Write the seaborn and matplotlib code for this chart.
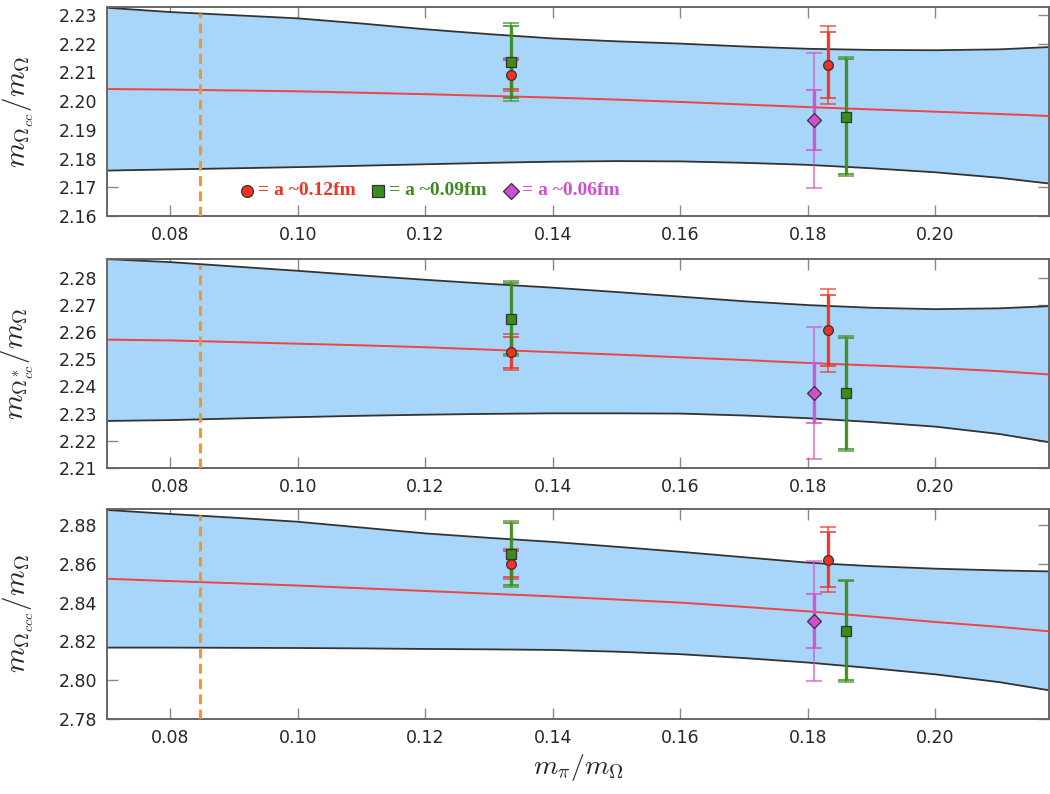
import numpy as np
import pandas as pd
import seaborn as sns
import matplotlib.pyplot as plt

band_x = [0.07, 0.08, 0.09, 0.10, 0.11, 0.12, 0.13, 0.14, 0.15, 0.16, 0.17, 0.18, 0.19, 0.20, 0.21, 0.2178]

# Omega_cc
cc_fit = [2.2042, 2.2040, 2.2037, 2.2034, 2.2029, 2.2024, 2.2018, 2.2012, 2.2005, 2.1997,
          2.1988, 2.1979, 2.1971, 2.1963, 2.1955, 2.1948]
cc_hi = [2.2325, 2.2310, 2.2299, 2.2288, 2.2270, 2.2250, 2.2233, 2.2218, 2.2208, 2.2200,
         2.2190, 2.2182, 2.2178, 2.2177, 2.2180, 2.2188]
cc_lo = [2.1758, 2.1762, 2.1766, 2.1770, 2.1775, 2.1780, 2.1785, 2.1789, 2.1791, 2.1790,
         2.1785, 2.1778, 2.1766, 2.1752, 2.1733, 2.1713]

# Omega*_cc
ccs_fit = [2.2572, 2.2569, 2.2563, 2.2557, 2.2551, 2.2544, 2.2535, 2.2526, 2.2517, 2.2507,
           2.2497, 2.2486, 2.2477, 2.2468, 2.2456, 2.2444]
ccs_hi = [2.2868, 2.2857, 2.2841, 2.2825, 2.2808, 2.2792, 2.2777, 2.2763, 2.2747, 2.2730,
          2.2713, 2.2699, 2.2689, 2.2684, 2.2687, 2.2695]
ccs_lo = [2.2273, 2.2276, 2.2282, 2.2287, 2.2292, 2.2296, 2.2299, 2.2301, 2.2301, 2.2300,
          2.2293, 2.2283, 2.2269, 2.2252, 2.2225, 2.2195]

# Omega_ccc
ccc_fit = [2.8523, 2.8511, 2.8500, 2.8488, 2.8474, 2.8460, 2.8446, 2.8432, 2.8416, 2.8400,
           2.8378, 2.8355, 2.8328, 2.8300, 2.8275, 2.8252]
ccc_hi = [2.8878, 2.8857, 2.8838, 2.8817, 2.8787, 2.8757, 2.8734, 2.8713, 2.8688, 2.8662,
          2.8634, 2.8606, 2.8588, 2.8575, 2.8566, 2.8561]
ccc_lo = [2.8168, 2.8168, 2.8167, 2.8166, 2.8164, 2.8161, 2.8159, 2.8156, 2.8147, 2.8134,
          2.8114, 2.8091, 2.8062, 2.8030, 2.7990, 2.7948]

# lattice points: x positions per lattice spacing
x_a12 = [0.1334, 0.1832]
x_a09 = [0.1334, 0.1859]
x_a06 = [0.1810]

# (value, stat error, total error) per panel
cc_a12 = ([2.2092, 2.2125], [0.0050, 0.0115], [0.0058, 0.0135])
cc_a09 = ([2.2136, 2.1945], [0.0125, 0.0200], [0.0135, 0.0207])
cc_a06 = ([2.1933], [0.0104], [0.0235])

ccs_a12 = ([2.2526, 2.2606], [0.0057, 0.0130], [0.0065, 0.0152])
ccs_a09 = ([2.2649, 2.2374], [0.0130, 0.0205], [0.0138, 0.0212])
ccs_a06 = ([2.2375], [0.0110], [0.0243])

ccc_a12 = ([2.8599, 2.8622], [0.0068, 0.0143], [0.0077, 0.0168])
ccc_a09 = ([2.8653, 2.8255], [0.0160, 0.0255], [0.0170, 0.0262])
ccc_a06 = ([2.8305], [0.0140], [0.0310])

phys_point = 0.0847

labels = [r"$m_{\Omega_{cc}}/m_{\Omega}$",
          r"$m_{\Omega^*_{cc}}/m_{\Omega}$",
          r"$m_{\Omega_{ccc}}/m_{\Omega}$"]
ylims = [(2.16, 2.2327), (2.21, 2.2869), (2.78, 2.8883)]
yticks = [np.arange(2.16, 2.2301, 0.01), np.arange(2.21, 2.2801, 0.01), np.arange(2.78, 2.8801, 0.02)]

legend_labels = ["= a ~0.12fm", "= a ~0.09fm", "= a ~0.06fm"]
legend_x = [0.0920, 0.1126, 0.1334]

sns.set_style("ticks")
plt.rcParams["mathtext.fontset"] = "cm"
plt.rcParams["font.family"] = ["DejaVu Sans"]

c_red = "#ee3322"
c_green = "#3c8c1c"
c_mag = "#d04fd0"
c_band = "#a8d6fa"

fig = plt.figure(figsize=(10.5, 7.94), dpi=100)
rects = [[0.102, 0.728, 0.897, 0.263],
         [0.102, 0.4106, 0.897, 0.2634],
         [0.102, 0.0945, 0.897, 0.2645]]

panels = [
    (cc_fit, cc_hi, cc_lo, cc_a12, cc_a09, cc_a06),
    (ccs_fit, ccs_hi, ccs_lo, ccs_a12, ccs_a09, ccs_a06),
    (ccc_fit, ccc_hi, ccc_lo, ccc_a12, ccc_a09, ccc_a06),
]

series_style = [
    (x_a12, c_red, "o", 7),
    (x_a09, c_green, "s", 6.5),
    (x_a06, c_mag, "D", 7),
]

for i, (fit, hi, lo, d12, d09, d06) in enumerate(panels):
    ax = fig.add_axes(rects[i])
    ax.fill_between(band_x, lo, hi, color=c_band, lw=0, zorder=1)
    ax.plot(band_x, hi, color="#333333", lw=1.3, zorder=2)
    ax.plot(band_x, lo, color="#333333", lw=1.3, zorder=2)
    df = pd.DataFrame({"x": band_x, "y": fit})
    sns.lineplot(data=df, x="x", y="y", ax=ax, color="#ee4444", lw=1.4, zorder=3)
    ax.axvline(phys_point, ymax=0.97, color="#f5952a", lw=2.2, ls=(0, (3.2, 1.8)), zorder=3)

    for (xs, col, mk, ms), (vals, stat, tot) in zip(series_style, [d12, d09, d06]):
        ax.errorbar(xs, vals, yerr=tot, fmt="none", ecolor=col, elinewidth=1.2,
                    capsize=6, capthick=1.2, alpha=0.75, zorder=4)
        ax.errorbar(xs, vals, yerr=stat, fmt="none", ecolor=col, elinewidth=2.4,
                    capsize=6, capthick=1.2, alpha=0.9, zorder=5)
        ax.plot(xs, vals, ls="none", marker=mk, ms=ms, mfc=col, mec="#333333",
                mew=0.9, zorder=6)

    ax.set_xlim(0.0701, 0.2178)
    ax.set_ylim(*ylims[i])
    ax.set_yticks(yticks[i])
    ax.set_yticklabels([f"{t:.2f}" for t in yticks[i]])
    ax.set_xticks([0.08, 0.10, 0.12, 0.14, 0.16, 0.18, 0.20])
    ax.set_xticklabels(["0.08", "0.10", "0.12", "0.14", "0.16", "0.18", "0.20"])
    ax.tick_params(direction="in", length=8, width=1, color="#888888",
                   labelsize=12.5, top=True, right=True, pad=7)
    for sp in ax.spines.values():
        sp.set_color("#666666")
        sp.set_linewidth(1.4)
    ax.set_xlabel("")
    ax.set_ylabel(labels[i], fontsize=21)
    ax.yaxis.set_label_coords(-0.075, 0.5)

    if i == 0:
        for (xs, col, mk, ms), lx, txt in zip(series_style, legend_x, legend_labels):
            ax.plot([lx], [2.1688], ls="none", marker=mk, ms=ms + 1.5, mfc=col,
                    mec="#333333", mew=0.9, zorder=6)
            ax.text(lx + 0.0017, 2.1688, txt, color=col, fontsize=14,
                    fontweight="bold", family=["Liberation Serif"], va="center")
    if i == 2:
        ax.set_xlabel(r"$m_{\pi}/m_{\Omega}$", fontsize=20, labelpad=4)

fig.savefig("out.png", dpi=100)
